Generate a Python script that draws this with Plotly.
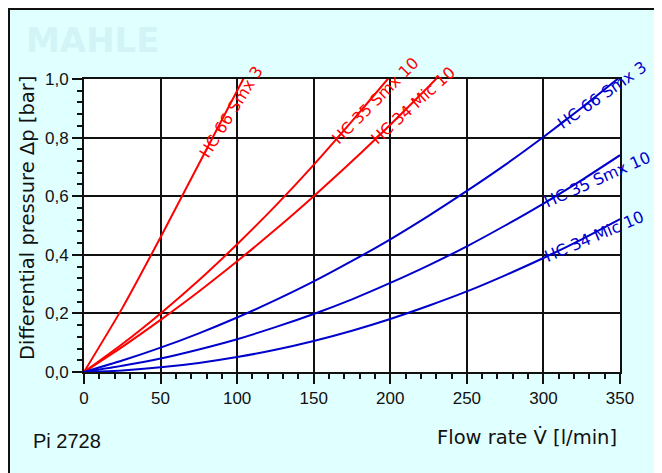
import numpy as np
import plotly.graph_objects as go

# ---- data ----
x_red66 = [0, 25, 50, 75, 100, 110]
y_red66 = [0, 0.218, 0.46, 0.71, 0.96, 1.06]

x_red35 = [0, 25, 50, 75, 100, 125, 150, 175, 200, 215]
y_red35 = [0, 0.0955, 0.2, 0.313, 0.436, 0.567, 0.707, 0.856, 1.01, 1.10]

x_red34 = [0, 25, 50, 75, 100, 125, 150, 175, 200, 225, 240]
y_red34 = [0, 0.086, 0.178, 0.275, 0.378, 0.486, 0.60, 0.719, 0.844, 0.974, 1.055]

x_blue = [0, 25, 50, 75, 100, 125, 150, 175, 200, 225, 250, 275, 300, 325, 350]
y_blue66 = [0, 0.039, 0.083, 0.132, 0.186, 0.245, 0.309, 0.379, 0.453, 0.533, 0.618, 0.707, 0.802, 0.902, 1.007]
y_blue35 = [0, 0.021, 0.046, 0.077, 0.112, 0.153, 0.198, 0.248, 0.304, 0.364, 0.429, 0.500, 0.575, 0.655, 0.740]
y_blue34 = [0, 0.0055, 0.016, 0.031, 0.051, 0.076, 0.106, 0.141, 0.181, 0.226, 0.275, 0.330, 0.389, 0.453, 0.522]

series_names = ["HC 66 Smx 3", "HC 35 Smx 10", "HC 34 Mic 10",
                "HC 66 Smx 3", "HC 35 Smx 10", "HC 34 Mic 10"]
label_x = [77, 163, 188, 309, 300, 300]          # where each label starts on its curve
label_angle = [58, 45, 42, 35, 24, 23]            # label slope, degrees

x_ticks = [0, 50, 100, 150, 200, 250, 300, 350]
y_ticks = [0.0, 0.2, 0.4, 0.6, 0.8, 1.0]

RED = "#FF0000"
BLUE = "#0000CC"
INK = "#111111"
FONT = "Liberation Sans, Arial, sans-serif"
WIDE = "DejaVu Sans, sans-serif"

curves = [
    (x_red66, y_red66, RED),
    (x_red35, y_red35, RED),
    (x_red34, y_red34, RED),
    (x_blue, y_blue66, BLUE),
    (x_blue, y_blue35, BLUE),
    (x_blue, y_blue34, BLUE),
]

fig = go.Figure()
for (xs, ys, col), name in zip(curves, series_names):
    fig.add_trace(go.Scatter(x=xs, y=ys, mode="lines", name=name,
                             line=dict(color=col, width=2, shape="spline", smoothing=0.6),
                             hoverinfo="skip"))

# curve labels, lying along the curve ends
LFS = 16
h = LFS * 1.3 + 2
for (xs, ys, col), name, lx, ang in zip(curves, series_names, label_x, label_angle):
    ly = float(np.interp(lx, xs, ys))
    t = np.radians(ang)
    fig.add_annotation(x=lx, y=ly, xref="x", yref="y", text=name, showarrow=False,
                       textangle=-ang, xanchor="left", yanchor="bottom",
                       xshift=-h * np.sin(t) / 2, yshift=-h * np.cos(t) / 2,
                       font=dict(family=WIDE, size=LFS, color=col))

# geometry: the page puts the figure 8 px in from the top-left corner
OFF = 8
W, H = 662, 473
PL, PT, PR, PB = 84, 79, 620, 372        # plot area in page pixels
pw, ph = PR - PL, PB - PT
L, T = PL - OFF, PT - OFF
R, B = W - L - pw, H - T - ph
def px(x):
    return (x - PL) / pw
def py(y):
    return (PB - y) / ph

# black border along the top and left edges of the panel
fig.add_shape(type="rect", xref="paper", yref="paper",
              x0=px(OFF + 1), x1=px(W + 40), y0=py(OFF + 1), y1=py(H + 40),
              fillcolor="rgba(0,0,0,0)", line=dict(color=INK, width=2), layer="above")

# watermark
fig.add_annotation(xref="paper", yref="paper", x=px(24), y=py(40), xanchor="left", yanchor="middle",
                   text="<b>MAHLE</b>", showarrow=False,
                   font=dict(family=WIDE, size=34, color="#D2F4F6"))

fig.add_annotation(xref="paper", yref="paper", x=px(31), y=py(441), xanchor="left", yanchor="middle",
                   text="Pi 2728", showarrow=False,
                   font=dict(family=FONT, size=20, color=INK))

fig.add_annotation(xref="paper", yref="paper", x=px(619), y=py(437), xanchor="right", yanchor="middle",
                   text="Flow rate V\u0307 [l/min]", showarrow=False,
                   font=dict(family=WIDE, size=19.5, color=INK))

fig.add_annotation(xref="paper", yref="paper", x=px(27), y=py(218), xanchor="center", yanchor="middle",
                   text="Differential pressure \u0394p [bar]", showarrow=False, textangle=-90,
                   font=dict(family=WIDE, size=19.5, color=INK))

axis_common = dict(showline=True, linecolor=INK, linewidth=2, mirror=True,
                   showgrid=True, gridcolor=INK, gridwidth=2,
                   ticks="outside", ticklen=10, tickwidth=1.5, tickcolor=INK,
                   zeroline=False, tickfont=dict(family=FONT, size=17, color=INK))

fig.update_xaxes(range=[0, 350], tickvals=x_ticks,
                 minor=dict(dtick=10, ticks="outside", ticklen=5, tickwidth=1.5,
                            tickcolor=INK, showgrid=False),
                 **axis_common)
fig.update_yaxes(range=[0, 1.0], tickvals=y_ticks, tickformat=".1f",
                 minor=dict(dtick=0.04, ticks="outside", ticklen=5, tickwidth=1.5,
                            tickcolor=INK, showgrid=False),
                 **axis_common)

fig.update_layout(width=W, height=H, margin=dict(l=L, r=R, t=T, b=B),
                  paper_bgcolor="#E0FFFF", plot_bgcolor="white",
                  separators=",.", showlegend=False)

fig.write_html("out.html")
